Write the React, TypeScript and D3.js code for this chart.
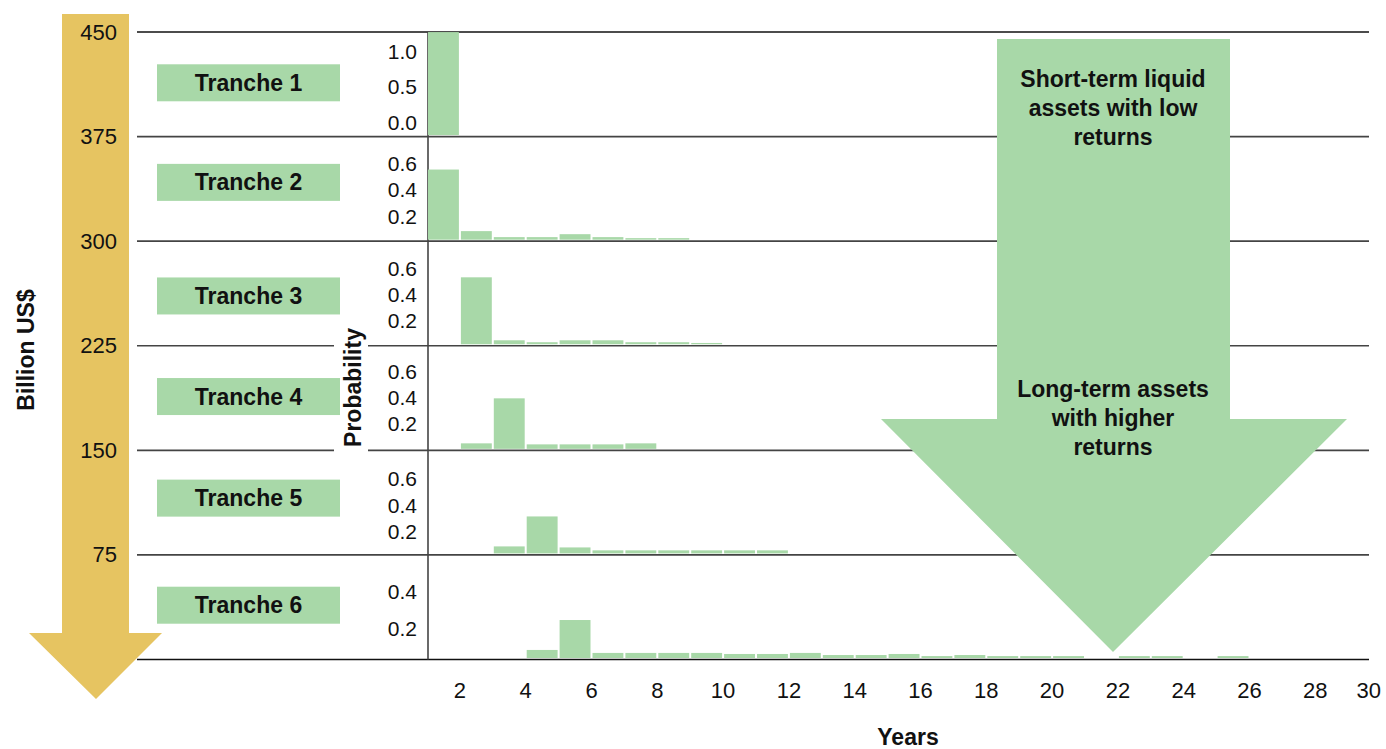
import React from 'react';
import * as d3 from 'd3';

// ---------- data ----------
const billionTicks = [450, 375, 300, 225, 150, 75];
const billionLines = [450, 375, 300, 225, 150, 75, 0];
const yearTicks = [2, 4, 6, 8, 10, 12, 14, 16, 18, 20, 22, 24, 26, 28, 30];
const trancheNames = ['Tranche 1', 'Tranche 2', 'Tranche 3', 'Tranche 4', 'Tranche 5', 'Tranche 6'];

// probabilities per year, starting with year 1
const tranche1Probs = [1.0];
const tranche2Probs = [0.55, 0.067, 0.02, 0.02, 0.043, 0.02, 0.012, 0.012];
const tranche3Probs = [0, 0.525, 0.031, 0.016, 0.031, 0.031, 0.016, 0.016, 0.01];
const tranche4Probs = [0, 0.043, 0.396, 0.035, 0.035, 0.035, 0.043];
const tranche5Probs = [0, 0, 0.055, 0.29, 0.047, 0.024, 0.024, 0.024, 0.024, 0.024, 0.024];
const tranche6Probs = [0, 0, 0, 0.046, 0.217, 0.029, 0.029, 0.029, 0.029, 0.023, 0.023, 0.029, 0.017, 0.017, 0.023, 0.011, 0.017, 0.011, 0.011, 0.011, 0, 0.011, 0.011, 0, 0.011];

const probTicksT1 = [0.0, 0.5, 1.0];
const probTicksMid = [0.2, 0.4, 0.6];
const probTicksT6 = [0.2, 0.4];

const shortTermLines = ['Short-term liquid', 'assets with low', 'returns'];
const longTermLines = ['Long-term assets', 'with higher', 'returns'];

// ---------- layout / style ----------
const W = 1386;
const H = 749;
const GREEN = '#A8D8A8';
const YELLOW = '#E6C461';
const LINE = '#444';
const FONT = '"Liberation Sans", Arial, Helvetica, sans-serif';

const panels = [
  { probs: tranche1Probs, yMax: 1.0, barSpan: 103, ticks: probTicksT1, la: 14, lb: 85.5, fmt: '.1f', boxOff: -1.5 },
  { probs: tranche2Probs, yMax: 0.8, barSpan: 102, ticks: probTicksMid, la: 25, lb: 77.5, fmt: '.1f', boxOff: -6.5 },
  { probs: tranche3Probs, yMax: 0.8, barSpan: 102, ticks: probTicksMid, la: 25, lb: 77.5, fmt: '.1f', boxOff: 2.5 },
  { probs: tranche4Probs, yMax: 0.8, barSpan: 102, ticks: probTicksMid, la: 26.5, lb: 78.5, fmt: '.1f', boxOff: -1.5 },
  { probs: tranche5Probs, yMax: 0.8, barSpan: 102, ticks: probTicksMid, la: 23.5, lb: 76, fmt: '.1f', boxOff: -4.5 },
  { probs: tranche6Probs, yMax: 0.6, barSpan: 105, ticks: probTicksT6, la: 31, lb: 68, fmt: '.1f', boxOff: -2 },
];

export default function App() {
  const yB = d3.scaleLinear().domain([0, 450]).range([659.5, 32]);
  const x = d3.scaleLinear().domain([1, 30]).range([427, 427 + 29 * 32.9]);
  const axisX = 428;
  const lineX0 = 137;
  const lineX1 = 1369;

  const panelEls = panels.map((p, i) => {
    const top = yB(450 - 75 * i);
    const bottom = yB(375 - 75 * i);
    const base = bottom - 1.5;
    const yP = d3.scaleLinear().domain([0, p.yMax]).range([base, base - p.barSpan]);
    const t0 = p.ticks[0];
    const t1 = p.ticks[p.ticks.length - 1];
    const yL = d3.scaleLinear().domain([t0, t1]).range([bottom - p.la, bottom - p.lb]);
    const fmt = d3.format(p.fmt);
    const cy = (top + bottom) / 2 + p.boxOff;
    return (
      <g key={i}>
        {p.probs.map((v, k) => {
          if (v <= 0) return null;
          const yr = k + 1;
          const x0 = x(yr) + 1;
          const x1 = x(yr + 1) - 1;
          return (
            <rect key={k} x={x0} y={yP(v)} width={x1 - x0} height={yP(0) - yP(v)} fill={GREEN} />
          );
        })}
        {p.ticks.map((t) => (
          <text key={t} x={417} y={yL(t)} textAnchor="end" dominantBaseline="central"
            fontSize={21} fontFamily={FONT} fill="#111">{fmt(t)}</text>
        ))}
        <rect x={157} y={cy - 18.5} width={183} height={37} fill={GREEN} />
        <text x={248.5} y={cy} textAnchor="middle" dominantBaseline="central"
          fontSize={23} fontWeight="bold" fontFamily={FONT} fill="#111">{trancheNames[i]}</text>
      </g>
    );
  });

  return (
    <svg width={W} height={H} style={{ position: 'absolute', left: 0, top: 0, background: '#fff' }}
      xmlns="http://www.w3.org/2000/svg">
      <rect x={0} y={0} width={W} height={H} fill="#fff" />
      {/* horizontal separator lines */}
      {billionLines.map((v) => (
        <line key={v} x1={lineX0} x2={lineX1} y1={yB(v)} y2={yB(v)}
          stroke={v === 450 || v === 0 ? '#111' : LINE} strokeWidth={v === 450 || v === 0 ? 1.3 : 1.6} />
      ))}
      {/* vertical probability axis */}
      <line x1={axisX} x2={axisX} y1={yB(450)} y2={yB(0)} stroke={LINE} strokeWidth={1.6} />
      {/* gap for the Probability label */}
      <rect x={334} y={318} width={34} height={136} fill="#fff" />
      {panelEls}
      <text transform="translate(353,387.5) rotate(-90)" textAnchor="middle" dominantBaseline="central"
        fontSize={23} fontWeight="bold" fontFamily={FONT} fill="#111">Probability</text>

      {/* x tick labels */}
      {yearTicks.map((t, i) => (
        <text key={t} x={x(t)} y={690} textAnchor={i === yearTicks.length - 1 ? 'end' : 'middle'}
          dominantBaseline="central" fontSize={22} fontFamily={FONT} fill="#111">{t}</text>
      ))}
      <text x={908} y={745} textAnchor="middle" fontSize={23} fontWeight="bold" fontFamily={FONT} fill="#111">Years</text>

      {/* big green annotation arrow */}
      <polygon points="997,39 1230,39 1230,419 1347,419 1113,652 881,419 997,419" fill={GREEN} />
      {shortTermLines.map((s, i) => (
        <text key={s} x={1113} y={87 + 29 * i} textAnchor="middle" fontSize={23} fontWeight="bold"
          fontFamily={FONT} fill="#111">{s}</text>
      ))}
      {longTermLines.map((s, i) => (
        <text key={s + i} x={1113} y={397 + 29 * i} textAnchor="middle" fontSize={23} fontWeight="bold"
          fontFamily={FONT} fill="#111">{s}</text>
      ))}

      {/* left yellow arrow */}
      <polygon points="62,14 129,14 129,633 162,633 96,699 29,633 62,633" fill={YELLOW} />
      {billionTicks.map((v) => (
        <text key={v} x={117} y={yB(v)} textAnchor="end" dominantBaseline="central"
          fontSize={22} fontFamily={FONT} fill="#111">{v}</text>
      ))}
      <text transform="translate(26,350) rotate(-90)" textAnchor="middle" dominantBaseline="central"
        fontSize={23} fontWeight="bold" fontFamily={FONT} fill="#111">Billion US$</text>
    </svg>
  );
}
